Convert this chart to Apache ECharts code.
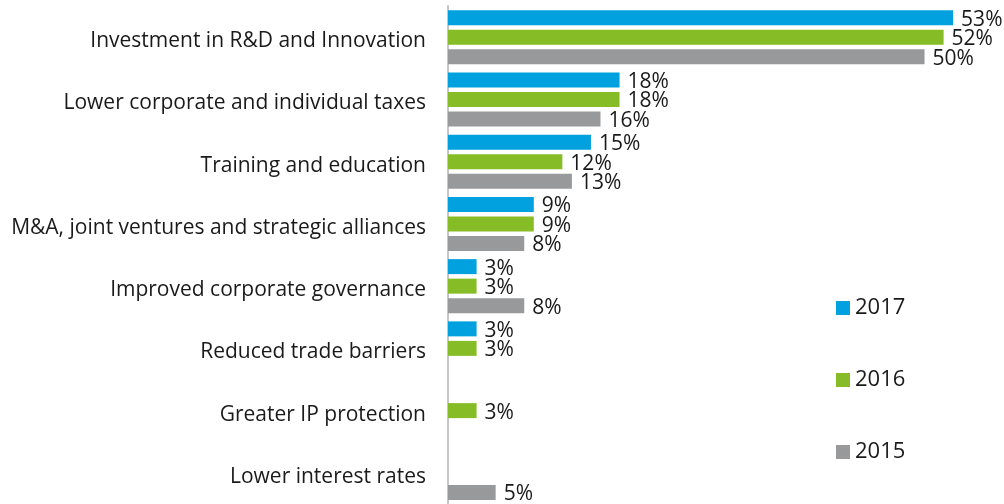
<!DOCTYPE html>
<html>
<head>
<meta charset="utf-8">
<script src="https://cdn.jsdelivr.net/npm/echarts@6/dist/echarts.min.js"></script>
<style>
html,body{margin:0;padding:0;background:#fff;}
#chart{width:1004px;height:504px;}
</style>
</head>
<body>
<div id="chart"></div>
<script>
const categories = [
  "Investment in R&D and Innovation",
  "Lower corporate and individual taxes",
  "Training and education",
  "M&A, joint ventures and strategic alliances",
  "Improved corporate governance",
  "Reduced trade barriers",
  "Greater IP protection",
  "Lower interest rates"
];
const seriesNames = ["2017", "2016", "2015"];
const values2017 = [53, 18, 15, 9, 3, 3, null, null];
const values2016 = [52, 18, 12, 9, 3, 3, 3, null];
const values2015 = [50, 16, 13, 8, 8, null, null, 5];
const colors = ["#00a1de", "#86bc25", "#97999b"];

const chart = echarts.init(document.getElementById('chart'), null, {renderer: 'canvas'});
const fontFamily = '"Open Sans", "Noto Sans", sans-serif';
function mk(name, data, color) {
  return {
    name: name,
    type: 'bar',
    data: data,
    barWidth: 15,
    barGap: '30%',
    itemStyle: {color: color},
    label: {
      show: true,
      position: 'right',
      distance: 8,
      offset: [0, 2],
      formatter: '{c}%',
      fontSize: 21,
      color: '#1a1a1a',
      fontFamily: fontFamily
    },
    animation: false
  };
}
chart.setOption({
  animation: false,
  grid: {left: 448, right: 8, top: 6, bottom: 0, containLabel: false},
  legend: {
    orient: 'vertical',
    left: 831,
    top: 292,
    itemWidth: 14,
    itemHeight: 14,
    itemGap: 50,
    icon: 'rect',
    textStyle: {fontSize: 22, color: '#1a1a1a', fontFamily: fontFamily},
    data: seriesNames
  },
  xAxis: {
    type: 'value',
    min: 0,
    max: 57.5,
    show: false
  },
  yAxis: {
    type: 'category',
    inverse: true,
    data: categories,
    axisLine: {show: true, lineStyle: {color: '#c6c6c6', width: 2}},
    axisTick: {show: false},
    axisLabel: {
      margin: 22,
      formatter: function (v) { return '{a|' + v + '}'; },
      rich: {
        a: {fontSize: 21, color: '#1a1a1a', fontFamily: fontFamily, padding: [8, 0, 0, 0]}
      }
    }
  },
  series: [
    mk(seriesNames[0], values2017, colors[0]),
    mk(seriesNames[1], values2016, colors[1]),
    mk(seriesNames[2], values2015, colors[2])
  ]
});
</script>
</body>
</html>
